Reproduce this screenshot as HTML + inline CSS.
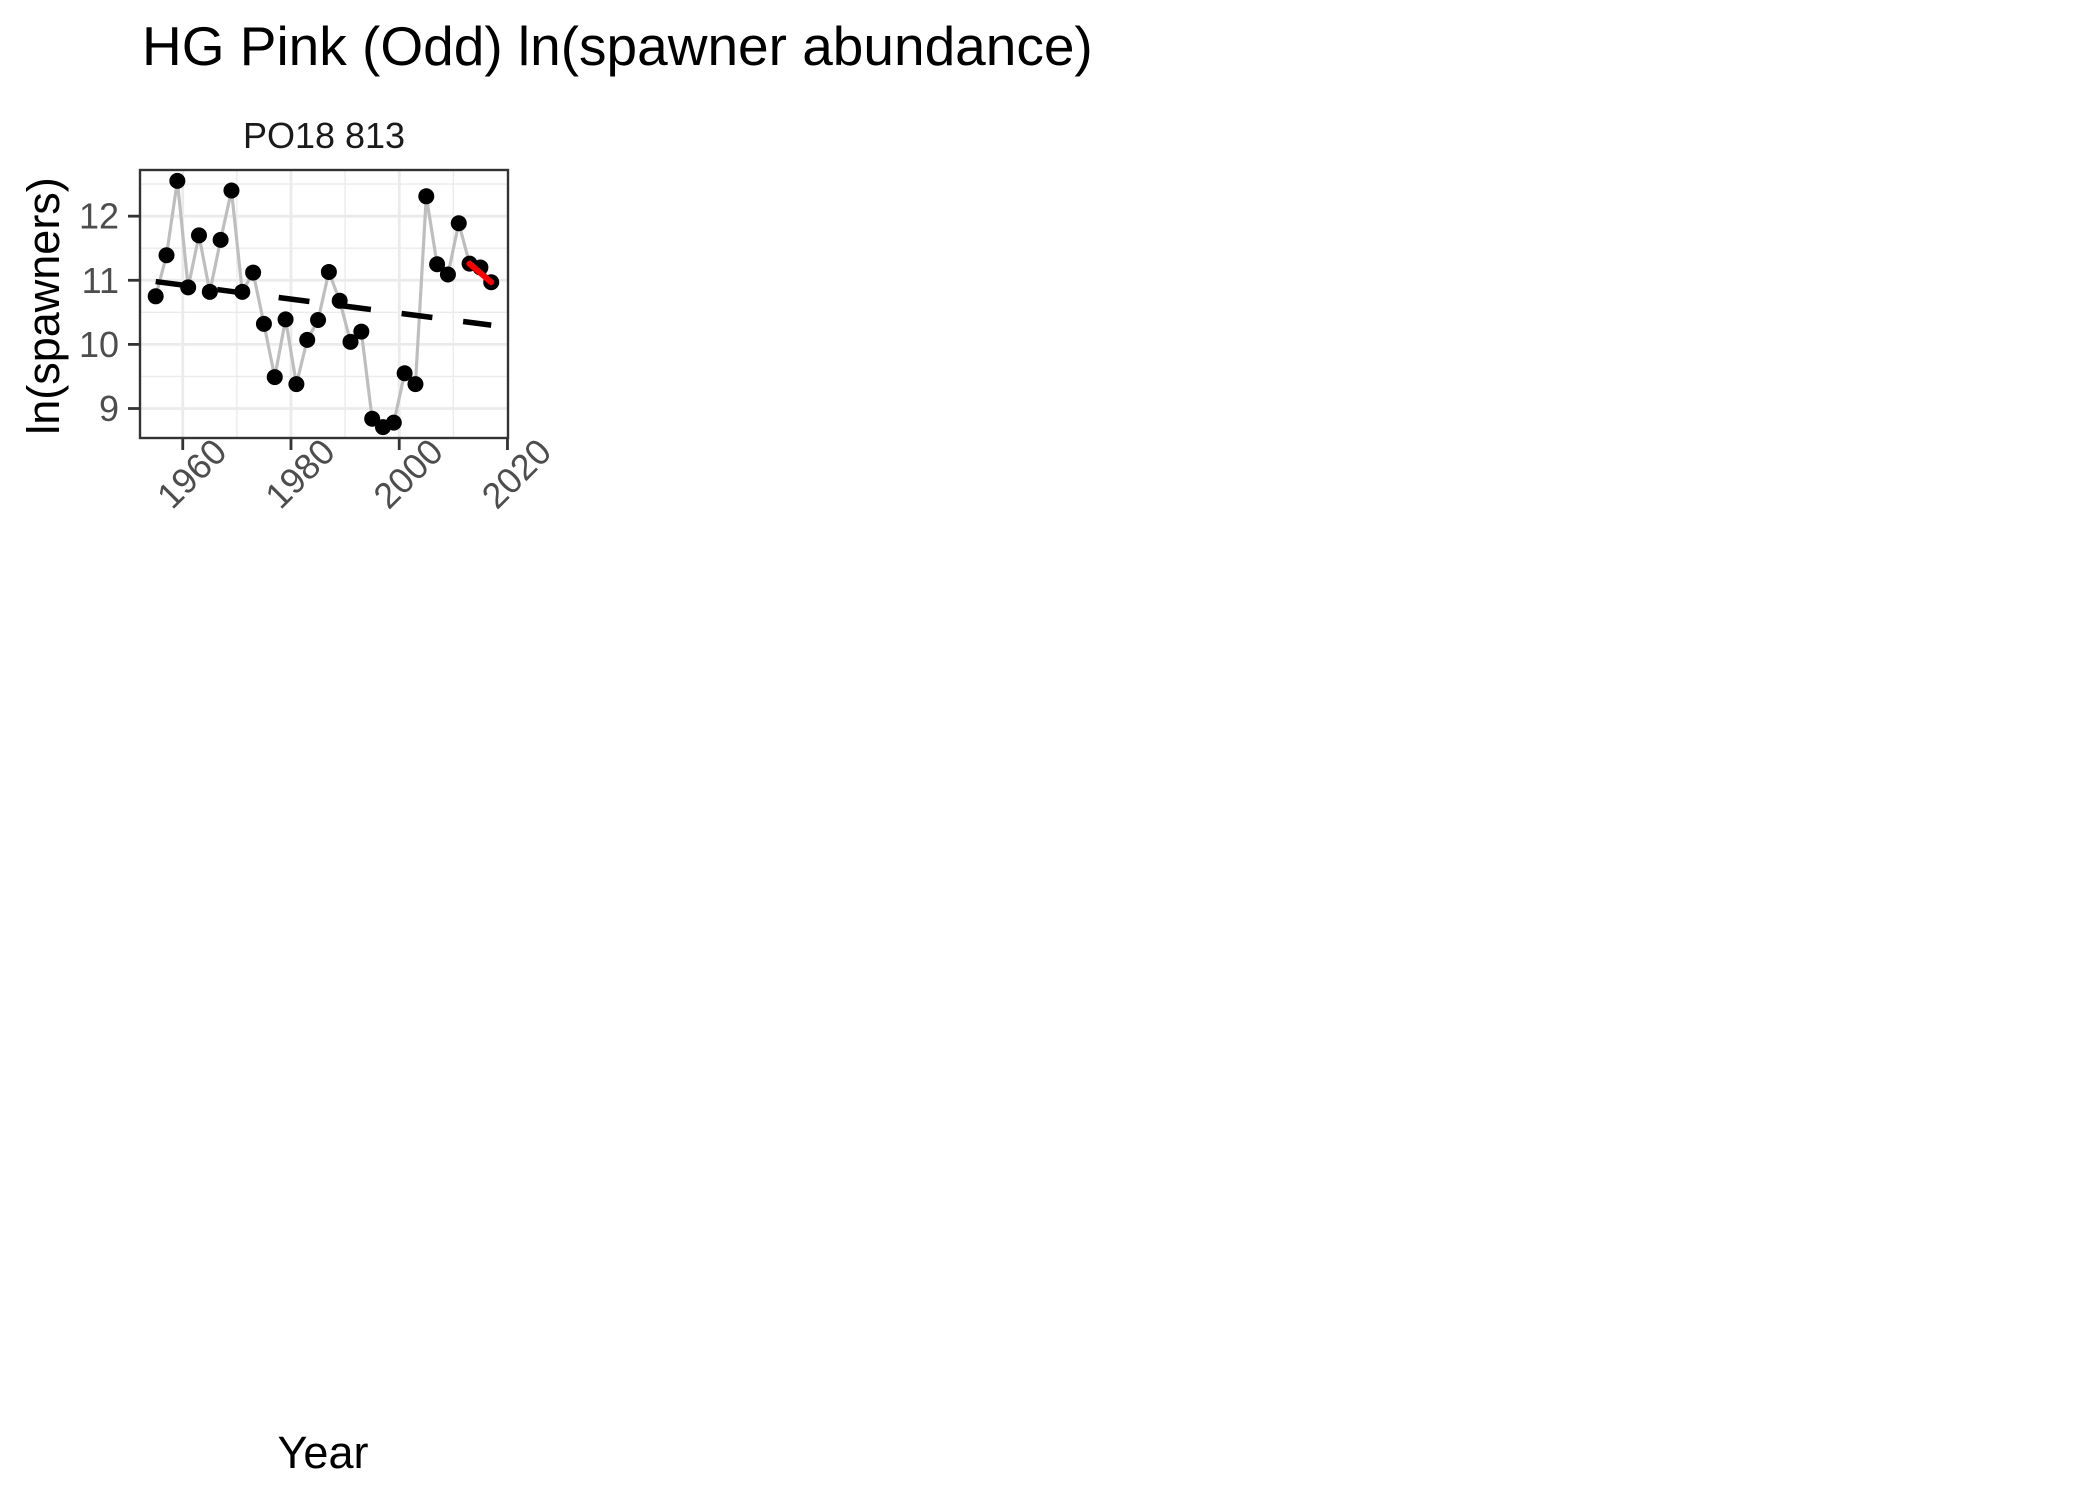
<!DOCTYPE html>
<html><head><meta charset="utf-8"><style>
html,body{margin:0;padding:0;background:#fff;}
svg{display:block;font-family:"Liberation Sans",Arial,sans-serif;}
</style></head><body>
<svg id="chart" width="2100" height="1500" viewBox="0 0 2100 1500" xmlns="http://www.w3.org/2000/svg">
<rect width="2100" height="1500" fill="#fff"/>
<text x="142" y="65" font-size="55" fill="#000">HG Pink (Odd) ln(spawner abundance)</text>
<text x="324" y="148" font-size="36" fill="#1a1a1a" text-anchor="middle">PO18 813</text>
<text transform="translate(59,306) rotate(-90)" font-size="45" text-anchor="middle" fill="#000">ln(spawners)</text>
<text x="323" y="1468" font-size="45" text-anchor="middle" fill="#000">Year</text>
<g id="grid"></g>
<g id="marks"></g>
<g id="axes"></g>
<rect x="140" y="170" width="368" height="268" fill="none" stroke="#333" stroke-width="2.4"/>
</svg>
<script>
const years = [1955,1957,1959,1961,1963,1965,1967,1969,1971,1973,1975,1977,1979,1981,1983,1985,1987,1989,1991,1993,1995,1997,1999,2001,2003,2005,2007,2009,2011,2013,2015,2017];
const values = [10.75,11.39,12.55,10.89,11.70,10.82,11.63,12.40,10.82,11.12,10.32,9.49,10.39,9.38,10.07,10.38,11.13,10.68,10.04,10.20,8.84,8.71,8.78,9.55,9.38,12.31,11.25,11.09,11.89,11.26,11.20,10.97];
const trendYears = [1955,2017];
const trendValues = [10.98,10.30];
const recentYears = [2013,2017];
const recentValues = [11.26,10.97];
const xTicks = [1960,1980,2000,2020];
const xMinor = [1970,1990,2010];
const yTicks = [9,10,11,12];
const yMinor = [9.5,10.5,11.5,12.5];

const L=140,R=508,T=170,B=438;
const X0=1952.1,X1=2020.1,Y0=8.54,Y1=12.72;
const sx=v=>L+(v-X0)/(X1-X0)*(R-L);
const sy=v=>B-(v-Y0)/(Y1-Y0)*(B-T);
const NS="http://www.w3.org/2000/svg";
function mk(tag,attrs,parent){const e=document.createElementNS(NS,tag);for(const k in attrs)e.setAttribute(k,attrs[k]);parent.appendChild(e);return e;}
const grid=document.getElementById('grid'),marks=document.getElementById('marks'),axes=document.getElementById('axes');
mk('rect',{x:L,y:T,width:R-L,height:B-T,fill:'#fff'},grid);
yMinor.forEach(v=>{const e=mk('line',{x1:L,x2:R,y1:sy(v),y2:sy(v),stroke:'#EBEBEB','stroke-width':1.4},grid);

});
xMinor.forEach(v=>{const e=mk('line',{x1:sx(v),x2:sx(v),y1:T,y2:B,stroke:'#EBEBEB','stroke-width':1.4},grid);

});
yTicks.forEach(v=>{const e=mk('line',{x1:L,x2:R,y1:sy(v),y2:sy(v),stroke:'#EBEBEB','stroke-width':2.8},grid);


const t=mk('line',{x1:128,x2:L,y1:sy(v),y2:sy(v),stroke:'#333','stroke-width':2.8},axes);


const l=mk('text',{x:119,y:sy(v),'font-size':36,fill:'#4D4D4D','text-anchor':'end','dominant-baseline':'central'},axes);l.textContent=v;

});
xTicks.forEach(v=>{if(v<X1-0.5){const e=mk('line',{x1:sx(v),x2:sx(v),y1:T,y2:B,stroke:'#EBEBEB','stroke-width':2.8},grid);

}
const t=mk('line',{x1:sx(v),x2:sx(v),y1:B,y2:450,stroke:'#333','stroke-width':2.8},axes);


const x=sx(v)+46,y=454;
const l=mk('text',{x:x,y:y,'font-size':36,fill:'#4D4D4D','text-anchor':'end',transform:`rotate(-45 ${x} ${y})`},axes);l.textContent=v;

});
const pl=mk('polyline',{points:years.map((y,i)=>sx(y)+','+sy(values[i])).join(' '),fill:'none',stroke:'#BEBEBE','stroke-width':3.2},marks);


const tr=mk('line',{x1:sx(trendYears[0]),y1:sy(trendValues[0]),x2:sx(trendYears[1]),y2:sy(trendValues[1]),stroke:'#000','stroke-width':5.5,'stroke-dasharray':'31 31'},marks);


years.forEach((y,i)=>{const c=mk('circle',{cx:sx(y),cy:sy(values[i]),r:8,fill:'#000'},marks);

});
const rl=mk('line',{x1:sx(recentYears[0]),y1:sy(recentValues[0]),x2:sx(recentYears[1]),y2:sy(recentValues[1]),stroke:'#FF0000','stroke-width':6,'stroke-linecap':'round'},marks);


</script>
</body></html>
